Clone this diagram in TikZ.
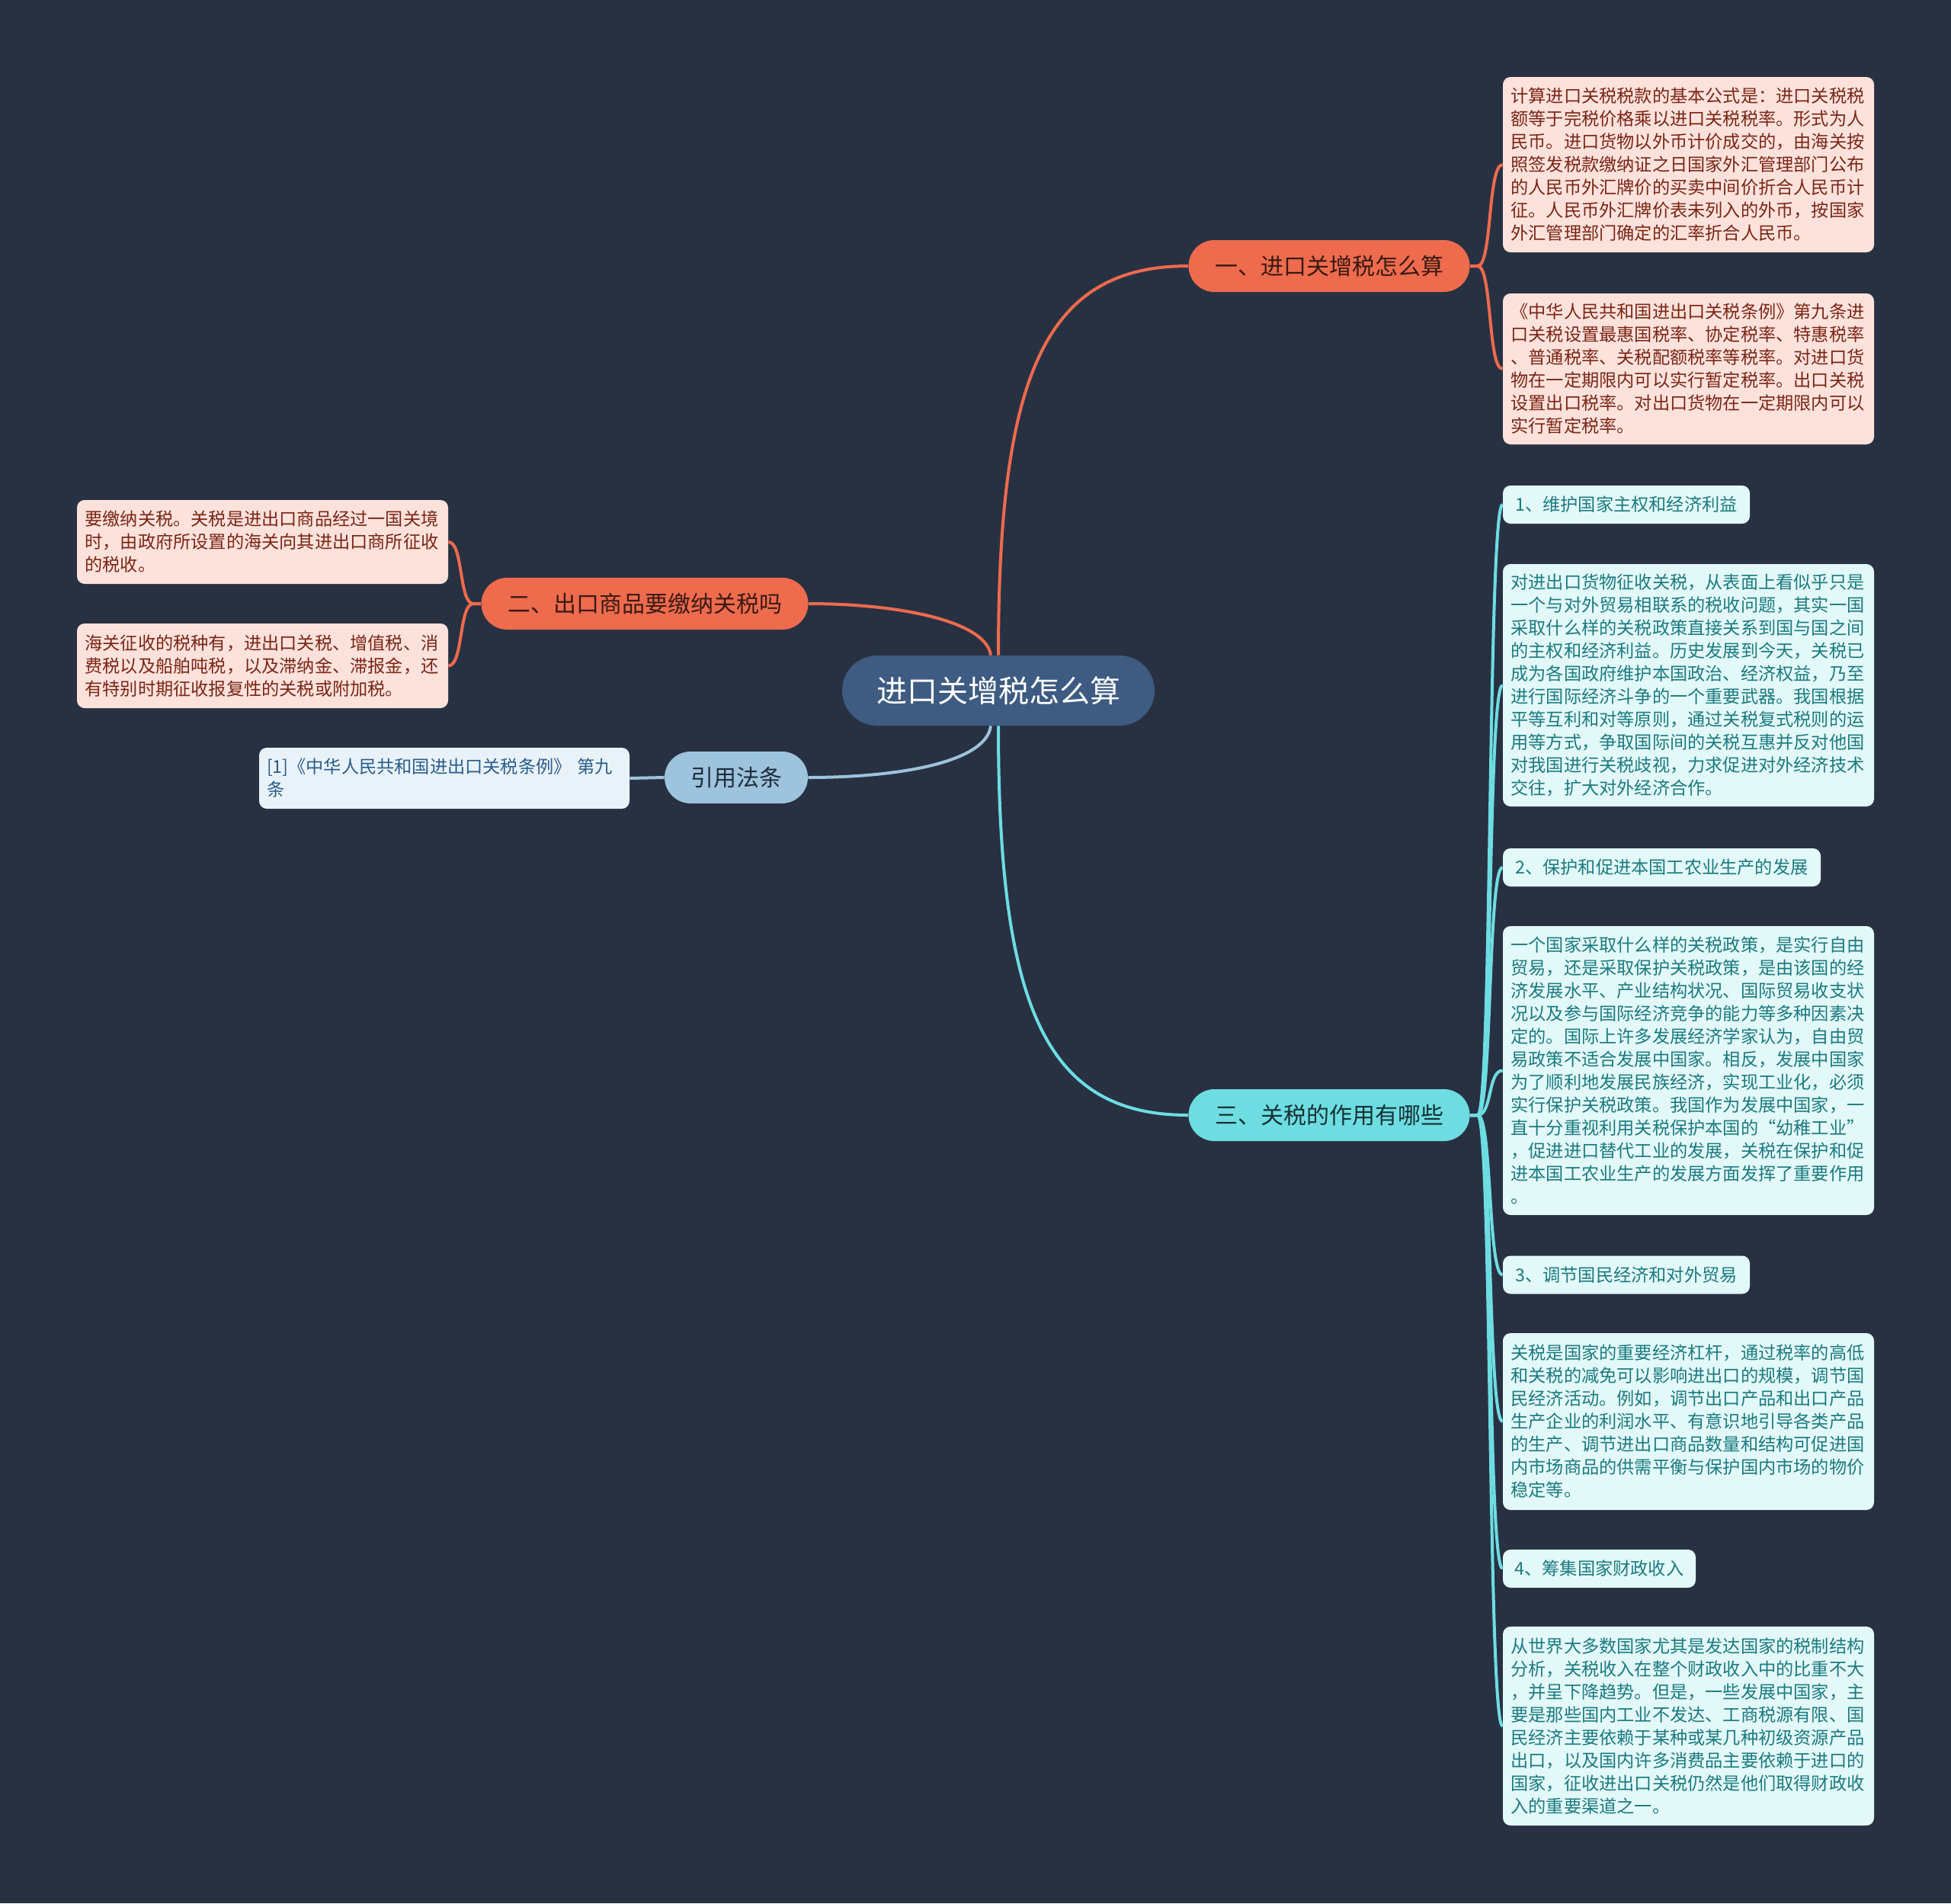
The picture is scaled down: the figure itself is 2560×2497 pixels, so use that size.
\documentclass[tikz,border=0pt]{standalone}
\usepackage{fontspec}
\setmainfont{Noto Sans CJK SC}
\definecolor{bg}{HTML}{283142}
\definecolor{rootc}{HTML}{3E5B82}
\definecolor{brO}{HTML}{EE6B4E}
\definecolor{brC}{HTML}{6DDDE2}
\definecolor{brB}{HTML}{9EC3DC}
\definecolor{lfO}{HTML}{FDE2DC}
\definecolor{txO}{HTML}{7A2616}
\definecolor{lfC}{HTML}{E3F8F8}
\definecolor{txC}{HTML}{1B7B80}
\definecolor{lfB}{HTML}{E9F2F8}
\definecolor{txB}{HTML}{2A5D8A}
\definecolor{btO}{HTML}{3A1A12}
\definecolor{btC}{HTML}{173236}
\definecolor{btB}{HTML}{1D2D3D}
\begin{document}
\begin{tikzpicture}[x=0.5pt,y=-0.5pt,
  leaftxt/.style={font=\fontsize{11.6pt}{15pt}\selectfont},
  leafO/.style={leaftxt, rounded corners=5pt, fill=lfO, text=txO, align=left, text width=233pt, inner xsep=5.25pt, inner ysep=0pt, minimum width=243.5pt},
  leafC/.style={leaftxt, rounded corners=5pt, fill=lfC, text=txC, align=left, text width=233pt, inner xsep=5.25pt, inner ysep=0pt, minimum width=243.5pt},
  titleC/.style={leaftxt, rounded corners=5pt, fill=lfC, text=txC, inner xsep=0pt, inner ysep=0pt, minimum height=25pt},
  leafB/.style={leaftxt, rounded corners=5pt, fill=lfB, text=txB, align=left, text width=233pt, inner xsep=5pt, inner ysep=0pt, minimum width=243pt},
  branch/.style={font=\fontsize{15pt}{18pt}\selectfont, rounded corners=17pt, inner sep=0pt, minimum height=34pt},
  lnO/.style={draw=brO, line width=2pt},
  lnC/.style={draw=brC, line width=2pt},
  lnB/.style={draw=brB, line width=2pt}]
\fill[bg] (0,0) rectangle (2560,2497);
\useasboundingbox (0,0) rectangle (2560,2497);

% root
\node[fill=rootc, text=white, rounded corners=23pt, minimum width=205pt, minimum height=46pt, inner sep=0pt, font=\fontsize{20pt}{24pt}\selectfont] (root) at (1310,906) {进口关增税怎么算};

% branches
\node[branch, fill=brO, text=btO, minimum width=184.5pt] (b1) at (1744,349) {一、进口关增税怎么算};
\node[branch, fill=brO, text=btO, minimum width=214.5pt] (b2) at (846,792) {二、出口商品要缴纳关税吗};
\node[branch, fill=brB, text=btB, minimum width=94pt] (ref) at (966,1020) {引用法条};
\node[branch, fill=brC, text=btC, minimum width=184.5pt] (b3) at (1744,1463) {三、关税的作用有哪些};

% branch 1 leaves
\node[leafO, minimum height=115pt] (l11) at (2215.5,216) {计算进口关税税款的基本公式是：进口关税税\\额等于完税价格乘以进口关税税率。形式为人\\民币。进口货物以外币计价成交的，由海关按\\照签发税款缴纳证之日国家外汇管理部门公布\\的人民币外汇牌价的买卖中间价折合人民币计\\征。人民币外汇牌价表未列入的外币，按国家\\外汇管理部门确定的汇率折合人民币。};
\node[leafO, minimum height=99pt] (l12) at (2215.5,484) {《中华人民共和国进出口关税条例》第九条进\\口关税设置最惠国税率、协定税率、特惠税率\\、普通税率、关税配额税率等税率。对进口货\\物在一定期限内可以实行暂定税率。出口关税\\设置出口税率。对出口货物在一定期限内可以\\实行暂定税率。};

% branch 2 leaves
\node[leafO, minimum height=55pt] (l21) at (344.5,711) {要缴纳关税。关税是进出口商品经过一国关境\\时，由政府所设置的海关向其进出口商所征收\\的税收。};
\node[leafO, minimum height=55.5pt] (l22) at (344.5,873.5) {海关征收的税种有，进出口关税、增值税、消\\费税以及船舶吨税，以及滞纳金、滞报金，还\\有特别时期征收报复性的关税或附加税。};

% reference leaf
\node[leafB, minimum height=40pt] (r1) at (583,1021) {[1]《中华人民共和国进出口关税条例》 第九\\条};

% branch 3 leaves
\node[titleC, minimum width=162pt] (t1) at (2134,662) {1、维护国家主权和经济利益};
\node[leafC, minimum height=159pt] (d1) at (2215.5,899) {对进出口货物征收关税，从表面上看似乎只是\\一个与对外贸易相联系的税收问题，其实一国\\采取什么样的关税政策直接关系到国与国之间\\的主权和经济利益。历史发展到今天，关税已\\成为各国政府维护本国政治、经济权益，乃至\\进行国际经济斗争的一个重要武器。我国根据\\平等互利和对等原则，通过关税复式税则的运\\用等方式，争取国际间的关税互惠并反对他国\\对我国进行关税歧视，力求促进对外经济技术\\交往，扩大对外经济合作。};
\node[titleC, minimum width=208.5pt] (t2) at (2180.5,1138) {2、保护和促进本国工农业生产的发展};
\node[leafC, minimum height=189.5pt] (d2) at (2215.5,1404.5) {一个国家采取什么样的关税政策，是实行自由\\贸易，还是采取保护关税政策，是由该国的经\\济发展水平、产业结构状况、国际贸易收支状\\况以及参与国际经济竞争的能力等多种因素决\\定的。国际上许多发展经济学家认为，自由贸\\易政策不适合发展中国家。相反，发展中国家\\为了顺利地发展民族经济，实现工业化，必须\\实行保护关税政策。我国作为发展中国家，一\\直十分重视利用关税保护本国的“幼稚工业”\\，促进进口替代工业的发展，关税在保护和促\\进本国工农业生产的发展方面发挥了重要作用\\。};
\node[titleC, minimum width=162pt] (t3) at (2134,1672.5) {3、调节国民经济和对外贸易};
\node[leafC, minimum height=116pt] (d3) at (2215.5,1865) {关税是国家的重要经济杠杆，通过税率的高低\\和关税的减免可以影响进出口的规模，调节国\\民经济活动。例如，调节出口产品和出口产品\\生产企业的利润水平、有意识地引导各类产品\\的生产、调节进出口商品数量和结构可促进国\\内市场商品的供需平衡与保护国内市场的物价\\稳定等。};
\node[titleC, minimum width=126.5pt] (t4) at (2098.5,2058) {4、筹集国家财政收入};
\node[leafC, minimum height=130.5pt] (d4) at (2215.5,2264.5) {从世界大多数国家尤其是发达国家的税制结构\\分析，关税收入在整个财政收入中的比重不大\\，并呈下降趋势。但是，一些发展中国家，主\\要是那些国内工业不发达、工商税源有限、国\\民经济主要依赖于某种或某几种初级资源产品\\出口，以及国内许多消费品主要依赖于进口的\\国家，征收进出口关税仍然是他们取得财政收\\入的重要渠道之一。};

% root connectors
\draw[lnO] (root.north) .. controls (1310,490) and (1372,349) .. (b1.west);
\draw[lnO] ([xshift=-5pt]root.north) .. controls (1294,815) and (1180,792) .. (b2.east);
\draw[lnB] ([xshift=-5pt]root.south) .. controls (1294,1000) and (1180,1020) .. (ref.east);
\draw[lnC] (root.south) .. controls (1310,1322) and (1372,1463) .. (b3.west);

% branch 1 connectors
\draw[lnO] (b1.east) -- ++(10,0) .. controls (1958,349) and (1952,216) .. (l11.west);
\draw[lnO] (b1.east) -- ++(10,0) .. controls (1958,349) and (1952,484) .. (l12.west);

% branch 2 connectors
\draw[lnO] (b2.west) -- ++(-10,0) .. controls (602,792) and (608,711) .. (l21.east);
\draw[lnO] (b2.west) -- ++(-10,0) .. controls (602,792) and (608,873.5) .. (l22.east);

% reference connector
\draw[lnB] (ref.west) -- (r1.east);

% branch 3 connectors
\draw[lnC] (b3.east) -- ++(10,0) .. controls (1958,1463) and (1952,662) .. (t1.west);
\draw[lnC] (b3.east) -- ++(10,0) .. controls (1958,1463) and (1952,899) .. (d1.west);
\draw[lnC] (b3.east) -- ++(10,0) .. controls (1958,1463) and (1952,1138) .. (t2.west);
\draw[lnC] (b3.east) -- ++(10,0) .. controls (1958,1463) and (1952,1404.5) .. (d2.west);
\draw[lnC] (b3.east) -- ++(10,0) .. controls (1958,1463) and (1952,1672.5) .. (t3.west);
\draw[lnC] (b3.east) -- ++(10,0) .. controls (1958,1463) and (1952,1865) .. (d3.west);
\draw[lnC] (b3.east) -- ++(10,0) .. controls (1958,1463) and (1952,2058) .. (t4.west);
\draw[lnC] (b3.east) -- ++(10,0) .. controls (1958,1463) and (1952,2264.5) .. (d4.west);
\end{tikzpicture}
\end{document}
